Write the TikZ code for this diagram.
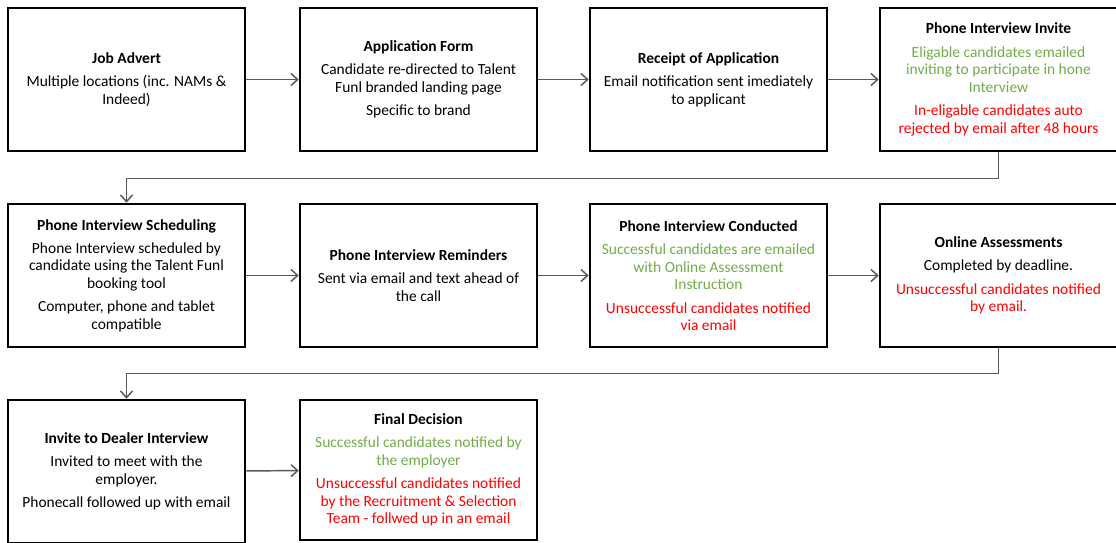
\documentclass[tikz,border=0pt]{standalone}
\usepackage{fontspec}
\setmainfont{Carlito}
\usetikzlibrary{arrows.meta}
\definecolor{okgreen}{RGB}{112,173,71}
\definecolor{nogored}{RGB}{255,0,0}
\definecolor{linkgrey}{RGB}{89,89,89}
\newcommand{\passnote}[1]{\textcolor{okgreen}{#1}}
\newcommand{\failnote}[1]{\textcolor{nogored}{#1}}

\begin{document}
\begin{tikzpicture}[x=0.75pt,y=-0.75pt,
    stage/.style={draw,line width=1.9pt,minimum width=177.75pt,minimum height=107.25pt,
        align=center,inner sep=2pt,font=\fontsize{11.6pt}{13.1pt}\selectfont},
    flow/.style={draw=linkgrey,line width=1.1pt,-{Straight Barb[length=5pt,width=9pt]}}]
    \useasboundingbox (0,0) rectangle (1116,542);

    % First row of stages
    \node [stage] (advert) at (126.5,79.5) {\textbf{Job Advert}\\[4.5pt]
        Multiple locations (inc. NAMs \&\\ Indeed)};
    \node [stage] (form) at (418.5,79.5) {\textbf{Application Form}\\[4.5pt]
        Candidate re-directed to Talent\\ Funl branded landing page\\[4.5pt]
        Specific to brand};
    \node [stage] (receipt) at (708.5,79.5) {\textbf{Receipt of Application}\\[4.5pt]
        Email notification sent imediately\\ to applicant};
    \node [stage] (invite) at (998.5,79.5) {\textbf{Phone Interview Invite}\\[4.5pt]
        \passnote{Eligable candidates emailed}\\ \passnote{inviting to participate in hone}\\
        \passnote{Interview}\\[4.5pt]
        \failnote{In-eligable candidates auto}\\ \failnote{rejected by email after 48 hours}};

    % Second row of stages
    \node [stage] (sched) at (126.5,275.5) {\textbf{Phone Interview Scheduling}\\[4.5pt]
        Phone Interview scheduled by\\ candidate using the Talent Funl\\ booking tool\\[4.5pt]
        Computer, phone and tablet\\ compatible};
    \node [stage] (remind) at (418.5,275.5) {\textbf{Phone Interview Reminders}\\[4.5pt]
        Sent via email and text ahead of\\ the call};
    \node [stage] (conduct) at (708.5,275.5) {\textbf{Phone Interview Conducted}\\[4.5pt]
        \passnote{Successful candidates are emailed}\\ \passnote{with Online Assessment}\\
        \passnote{Instruction}\\[4.5pt]
        \failnote{Unsuccessful candidates notified}\\ \failnote{via email}};
    \node [stage] (assess) at (998.5,275.5) {\textbf{Online Assessments}\\[4.5pt]
        Completed by deadline.\\[4.5pt]
        \failnote{Unsuccessful candidates notified}\\ \failnote{by email.}};

    % Third row of stages
    \node [stage] (dealer) at (126.5,471.5) {\textbf{Invite to Dealer Interview}\\[4.5pt]
        Invited to meet with the\\ employer.\\[4.5pt]
        Phonecall followed up with email};
    \node [stage,minimum height=105pt] (decision) at (418.5,470) {\textbf{Final Decision}\\[4.5pt]
        \passnote{Successful candidates notified by}\\ \passnote{the employer}\\[4.5pt]
        \failnote{Unsuccessful candidates notified}\\ \failnote{by the Recruitment \& Selection}\\
        \failnote{Team - follwed up in an email}};

    % Drawing arrows along the rows
    \draw [flow] (advert) -- (form);
    \draw [flow] (form) -- (receipt);
    \draw [flow] (receipt) -- (invite);
    \draw [flow] (sched) -- (remind);
    \draw [flow] (remind) -- (conduct);
    \draw [flow] (conduct) -- (assess);
    \draw [flow] (dealer) -- (decision);

    % Drawing links between the rows
    \draw [flow] (invite.south) -- ++(0,26) -| (sched.north);
    \draw [flow] (assess.south) -- ++(0,25) -| (dealer.north);
\end{tikzpicture}
\end{document}
